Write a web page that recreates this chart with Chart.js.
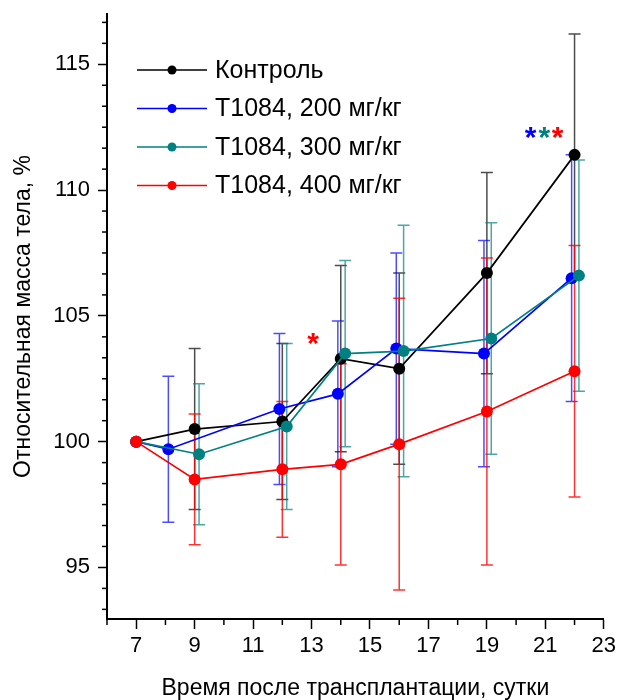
<!DOCTYPE html>
<html>
<head>
<meta charset="utf-8">
<script src="https://cdn.jsdelivr.net/npm/chart.js@4.4.0/dist/chart.umd.min.js"></script>
<style>
  html, body { margin: 0; padding: 0; background: #fff; }
</style>
</head>
<body>
<canvas id="massChart" width="620" height="700"></canvas>
<script>
// Relative body mass after transplantation (% of day 7), mean ± SD

const seriesNames = ['Контроль', 'T1084, 200 мг/кг', 'T1084, 300 мг/кг', 'T1084, 400 мг/кг'];
const seriesColors = ['#000000', '#0000ff', '#008080', '#ff0000'];
const barColors = ['rgba(0,0,0,0.7)', 'rgba(0,0,255,0.7)', 'rgba(0,128,128,0.7)', 'rgba(255,0,0,0.8)'];

const daysControl = [7, 9, 12, 14, 16, 19, 22];
const massControl = [100, 100.5, 100.8, 103.3, 102.9, 106.7, 111.4];
const sdControl = [0, 3.2, 3.1, 3.7, 3.8, 4.0, 4.8];

const days200 = [7, 8.1, 11.9, 13.9, 15.9, 18.9, 21.9];
const mass200 = [100, 99.7, 101.3, 101.9, 103.7, 103.5, 106.5];
const sd200 = [0, 2.9, 3.0, 2.9, 3.8, 4.5, 4.9];

const days300 = [7, 9.15, 12.15, 14.15, 16.15, 19.15, 22.15];
const mass300 = [100, 99.5, 100.6, 103.5, 103.6, 104.1, 106.6];
const sd300 = [0, 2.8, 3.3, 3.7, 5.0, 4.6, 4.6];

const days400 = [7, 9, 12, 14, 16, 19, 22];
const mass400 = [100, 98.5, 98.9, 99.1, 99.9, 101.2, 102.8];
const sd400 = [0, 2.6, 2.7, 4.0, 5.8, 6.1, 5.0];

// significance asterisks
const starDays = [13.05, 20.5, 20.97, 21.42];
const starMass = [104.2, 112.4, 112.4, 112.4];
const starColors = ['#ff0000', '#0000ff', '#008080', '#ff0000'];

// axes
const xMin = 6, xMax = 23;
const xLabels = [7, 9, 11, 13, 15, 17, 19, 21, 23];
const yMin = 92.95, yMax = 117;
const yLabels = [95, 100, 105, 110, 115];
const yMinorStep = 5 / 6;

const FONT = "'Liberation Sans', Arial, sans-serif";

function isMajorX(v) { return xLabels.includes(v); }
function isMajorY(v) { return yLabels.includes(Math.round(v * 1000) / 1000); }

function points(xs, ys, sds) {
  return xs.map((x, i) => ({ x: x, y: ys[i], sd: sds[i] }));
}

const allDays = [daysControl, days200, days300, days400];
const allMass = [massControl, mass200, mass300, mass400];
const allSd = [sdControl, sd200, sd300, sd400];

// Error bars, drawn under the points
const errorBars = {
  id: 'errorBars',
  beforeDatasetsDraw(chart) {
    const { ctx, scales: { x, y } } = chart;
    ctx.save();
    ctx.lineWidth = 1.5;
    chart.data.datasets.forEach((ds, di) => {
      ctx.strokeStyle = barColors[di];
      ds.data.forEach(p => {
        if (!p.sd) return;
        const px = x.getPixelForValue(p.x);
        const top = y.getPixelForValue(p.y + p.sd);
        const bot = y.getPixelForValue(p.y - p.sd);
        ctx.beginPath();
        ctx.moveTo(px, top); ctx.lineTo(px, bot);
        ctx.moveTo(px - 6, top); ctx.lineTo(px + 6, top);
        ctx.moveTo(px - 6, bot); ctx.lineTo(px + 6, bot);
        ctx.stroke();
      });
    });
    ctx.restore();
  }
};

// Asterisks, short minor ticks and the legend box
const extras = {
  id: 'extras',
  afterDraw(chart) {
    const { ctx, chartArea, scales: { x, y } } = chart;
    ctx.save();

    // minor ticks
    ctx.strokeStyle = '#000';
    ctx.lineWidth = 1.5;
    x.ticks.forEach(t => {
      if (isMajorX(t.value)) return;
      const px = x.getPixelForValue(t.value);
      ctx.beginPath(); ctx.moveTo(px, chartArea.bottom); ctx.lineTo(px, chartArea.bottom + 6); ctx.stroke();
    });
    y.ticks.forEach(t => {
      if (isMajorY(t.value)) return;
      const py = y.getPixelForValue(t.value);
      ctx.beginPath(); ctx.moveTo(chartArea.left, py); ctx.lineTo(chartArea.left - 5, py); ctx.stroke();
    });

    // asterisks
    ctx.font = 'bold 30px ' + FONT;
    ctx.textAlign = 'center';
    ctx.textBaseline = 'alphabetic';
    starDays.forEach((d, i) => {
      ctx.fillStyle = starColors[i];
      ctx.fillText('*', x.getPixelForValue(d), y.getPixelForValue(starMass[i]) + 17);
    });

    // legend
    const lx = chartArea.left + 30;
    let ly = chartArea.top + 56;
    ctx.font = '25px ' + FONT;
    ctx.textAlign = 'left';
    ctx.textBaseline = 'middle';
    seriesNames.forEach((name, i) => {
      ctx.strokeStyle = seriesColors[i];
      ctx.fillStyle = seriesColors[i];
      ctx.lineWidth = 1.6;
      ctx.beginPath(); ctx.moveTo(lx, ly); ctx.lineTo(lx + 70, ly); ctx.stroke();
      ctx.beginPath(); ctx.arc(lx + 35, ly, 4.5, 0, Math.PI * 2); ctx.fill();
      ctx.fillStyle = '#000';
      ctx.fillText(name, lx + 78, ly + 1);
      ly += 38.5;
    });
    ctx.restore();
  }
};

new Chart(document.getElementById('massChart'), {
  type: 'line',
  data: {
    datasets: seriesNames.map((name, i) => ({
      label: name,
      data: points(allDays[i], allMass[i], allSd[i]),
      borderColor: seriesColors[i],
      backgroundColor: seriesColors[i],
      pointBackgroundColor: seriesColors[i],
      pointBorderColor: seriesColors[i],
      pointRadius: 6,
      pointBorderWidth: 0,
      borderWidth: 1.7,
      tension: 0,
      order: 3 - i
    }))
  },
  options: {
    responsive: false,
    animation: false,
    devicePixelRatio: 1,
    layout: { padding: { top: 14, right: 14, left: 0, bottom: 0 } },
    plugins: { legend: { display: false }, tooltip: { enabled: false } },
    scales: {
      x: {
        type: 'linear',
        min: xMin,
        max: xMax,
        afterFit(s) { s.height = 81; },
        ticks: {
          stepSize: 1,
          autoSkip: false,
          maxRotation: 0,
          padding: 4,
          color: '#000',
          font: { family: FONT, size: 22 },
          callback: v => isMajorX(v) ? String(v) : ''
        },
        grid: {
          drawOnChartArea: false,
          drawTicks: true,
          tickLength: 10,
          tickWidth: 1.5,
          tickColor: c => (c.tick && isMajorX(c.tick.value)) ? '#000' : 'rgba(0,0,0,0)'
        },
        border: { color: '#000', width: 2 },
        title: {
          display: true,
          text: 'Время после трансплантации, сутки',
          color: '#000',
          font: { family: FONT, size: 23, lineHeight: 1 },
          padding: { top: 0, bottom: 0 }
        }
      },
      y: {
        type: 'linear',
        min: yMin,
        max: yMax,
        afterFit(s) { s.width = 107; s.paddingTop = 0; s.paddingBottom = 0; },
        afterBuildTicks(s) {
          const ticks = [];
          const k0 = Math.ceil((yMin - yLabels[0]) / yMinorStep);
          const k1 = Math.floor((yMax - yLabels[0]) / yMinorStep);
          for (let k = k0; k <= k1; k++) ticks.push({ value: yLabels[0] + k * yMinorStep });
          s.ticks = ticks;
        },
        ticks: {
          autoSkip: false,
          padding: 8,
          color: '#000',
          font: { family: FONT, size: 22 },
          callback: v => isMajorY(v) ? String(Math.round(v)) : ''
        },
        grid: {
          drawOnChartArea: false,
          drawTicks: true,
          tickLength: 9,
          tickWidth: 1.5,
          tickColor: c => (c.tick && isMajorY(c.tick.value)) ? '#000' : 'rgba(0,0,0,0)'
        },
        border: { color: '#000', width: 2 },
        title: {
          display: true,
          text: 'Относительная масса тела, %',
          color: '#000',
          font: { family: FONT, size: 23, lineHeight: 1 },
          padding: { top: 12, bottom: 0 }
        }
      }
    }
  },
  plugins: [errorBars, extras]
});
</script>
</body>
</html>
